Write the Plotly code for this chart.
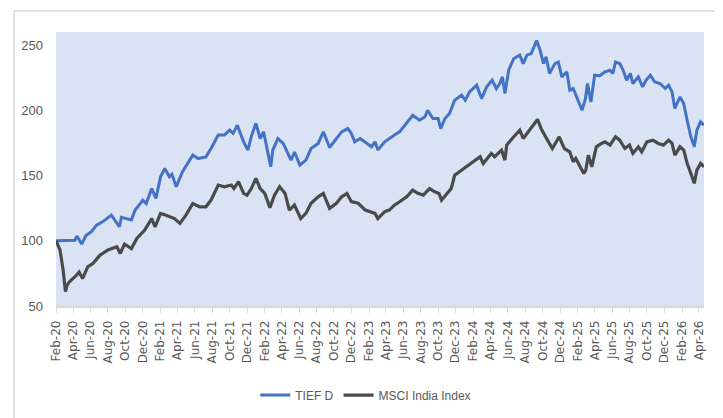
import plotly.graph_objects as go

tief_dates = [
    "2020-02-01", "2020-04-07", "2020-04-14", "2020-05-01", "2020-05-16", "2020-06-04", "2020-06-22",
    "2020-07-13", "2020-08-13", "2020-08-25", "2020-09-10", "2020-09-17", "2020-10-10", "2020-10-22",
    "2020-11-04", "2020-12-01", "2020-12-13", "2021-01-01", "2021-01-16", "2021-02-01", "2021-02-16",
    "2021-03-04", "2021-03-13", "2021-03-28", "2021-04-19", "2021-05-25", "2021-06-13", "2021-07-10",
    "2021-07-28", "2021-08-22", "2021-09-13", "2021-10-01", "2021-10-13", "2021-10-28", "2021-11-19",
    "2021-12-04", "2021-12-16", "2022-01-01", "2022-01-16", "2022-01-28", "2022-02-10", "2022-02-22",
    "2022-03-01", "2022-03-19", "2022-04-07", "2022-04-22", "2022-05-04", "2022-05-16", "2022-06-04",
    "2022-06-25", "2022-07-13", "2022-08-07", "2022-08-25", "2022-09-16", "2022-10-04", "2022-10-28",
    "2022-11-19", "2022-12-01", "2022-12-13", "2023-01-01", "2023-01-25", "2023-02-10", "2023-02-22",
    "2023-03-04", "2023-03-28", "2023-04-13", "2023-05-01", "2023-05-19", "2023-06-07", "2023-06-22",
    "2023-07-04", "2023-07-28", "2023-08-16", "2023-08-25", "2023-09-13", "2023-10-01", "2023-10-10",
    "2023-10-25", "2023-11-10", "2023-11-28", "2023-12-22", "2024-01-04", "2024-01-19", "2024-02-13",
    "2024-03-01", "2024-03-19", "2024-03-28", "2024-04-07", "2024-04-22", "2024-05-04", "2024-05-13",
    "2024-05-22", "2024-06-04", "2024-06-22", "2024-07-13", "2024-07-25", "2024-08-07", "2024-08-22",
    "2024-09-10", "2024-09-22", "2024-10-04", "2024-10-13", "2024-10-25", "2024-11-13", "2024-11-25",
    "2024-12-07", "2024-12-25", "2025-01-04", "2025-01-16", "2025-02-01", "2025-02-16", "2025-02-28",
    "2025-03-07", "2025-03-19", "2025-04-01", "2025-04-19", "2025-05-07", "2025-05-25", "2025-06-04",
    "2025-06-13", "2025-06-28", "2025-07-10", "2025-07-22", "2025-08-04", "2025-08-13", "2025-09-01",
    "2025-09-16", "2025-09-28", "2025-10-13", "2025-10-28", "2025-11-16", "2025-12-04", "2025-12-16",
    "2025-12-28", "2026-01-07", "2026-01-25", "2026-02-07", "2026-02-19", "2026-03-04", "2026-03-16",
    "2026-03-25", "2026-04-07", "2026-04-19",
]
tief_values = [
    100, 100.3, 103.6, 97.5, 104, 107, 112,
    114.5, 119.7, 116, 110.7, 118, 117, 116,
    123.5, 131, 128.5, 140, 132.5, 149, 155.4,
    149, 151, 141.4, 152.9, 165.6, 163, 164.3,
    170.7, 181, 181, 184.8, 182.3, 188.6, 175.8,
    169.5, 180, 190, 178.4, 183.5, 169.5, 156.7,
    169.5, 178.4, 174.5, 166.9, 161.8, 168, 158,
    161.8, 170.7, 174.6, 183.5, 171.5, 177, 183.5,
    186, 182.3, 175.8, 178.4, 174.6, 172, 175.8,
    169.5, 175.8, 178.4, 181, 183.5, 188.6, 192.4,
    196.2, 192.4, 195, 200, 193.7, 193.7, 186,
    193.7, 197.5, 207.7, 211.6, 207.7, 214, 219.2,
    209, 218, 220.5, 223, 216.7, 220.5, 225.6,
    212.9, 230.7, 239.7, 242.2, 235.8, 242.2, 243.5,
    253.5, 246, 235.8, 241, 228.2, 235.8, 237,
    225.6, 229.4, 215.4, 216.7, 207.7, 200, 209,
    220.5, 206.4, 226.9, 226.5, 229.4, 230.7, 228.2,
    237, 235.8, 230.7, 223, 228.2, 220.5, 225.6,
    218, 223, 226.9, 221.8, 220.5, 216.7, 219.2,
    214.1, 201.4, 210.3, 205.1, 192.4, 179.7, 172,
    184.8, 191.1, 188.6,
]

msci_dates = [
    "2020-02-01", "2020-02-15", "2020-02-26", "2020-03-05", "2020-03-11", "2020-03-19", "2020-04-13",
    "2020-04-22", "2020-05-04", "2020-05-22", "2020-06-10", "2020-07-04", "2020-08-01", "2020-09-01",
    "2020-09-13", "2020-09-28", "2020-10-22", "2020-11-10", "2020-12-07", "2021-01-01", "2021-01-13",
    "2021-02-01", "2021-02-16", "2021-03-04", "2021-03-22", "2021-04-10", "2021-05-01", "2021-05-25",
    "2021-06-19", "2021-07-10", "2021-07-28", "2021-08-22", "2021-09-13", "2021-10-07", "2021-10-16",
    "2021-11-01", "2021-11-19", "2021-12-01", "2021-12-16", "2022-01-01", "2022-01-16", "2022-02-01",
    "2022-02-19", "2022-03-07", "2022-03-25", "2022-04-13", "2022-04-28", "2022-05-16", "2022-06-07",
    "2022-06-25", "2022-07-13", "2022-08-07", "2022-08-25", "2022-09-16", "2022-10-10", "2022-10-28",
    "2022-11-16", "2022-12-01", "2022-12-25", "2023-01-19", "2023-02-04", "2023-02-22", "2023-03-04",
    "2023-03-28", "2023-04-13", "2023-05-01", "2023-05-19", "2023-06-13", "2023-07-04", "2023-07-22",
    "2023-08-10", "2023-09-01", "2023-09-19", "2023-10-04", "2023-10-13", "2023-11-01", "2023-11-16",
    "2023-11-28", "2023-12-22", "2024-01-10", "2024-01-25", "2024-02-13", "2024-02-25", "2024-03-07",
    "2024-03-19", "2024-04-04", "2024-04-16", "2024-05-10", "2024-05-22", "2024-05-28", "2024-06-22",
    "2024-07-13", "2024-07-25", "2024-08-07", "2024-08-22", "2024-09-13", "2024-09-28", "2024-10-16",
    "2024-11-04", "2024-11-28", "2024-12-16", "2025-01-04", "2025-01-16", "2025-01-25", "2025-02-10",
    "2025-02-22", "2025-03-01", "2025-03-10", "2025-03-22", "2025-04-07", "2025-04-25", "2025-05-07",
    "2025-05-25", "2025-06-13", "2025-06-28", "2025-07-16", "2025-08-01", "2025-08-13", "2025-09-01",
    "2025-09-13", "2025-10-01", "2025-10-22", "2025-11-10", "2025-11-28", "2025-12-16", "2025-12-28",
    "2026-01-07", "2026-01-25", "2026-02-07", "2026-02-19", "2026-03-04", "2026-03-16", "2026-03-25",
    "2026-04-07", "2026-04-19",
]
msci_values = [
    100, 93, 77.5, 61, 66, 68.6, 73.7,
    76, 71, 80, 82.7, 89, 93, 95.4,
    90.3, 97.5, 94, 101.8, 108, 117, 110.7,
    121, 120, 118.4, 117, 113.3, 119.7, 128.6,
    126, 126, 131.2, 142.7, 141.4, 142.7, 140,
    145.3, 136.3, 135, 140, 147.8, 140, 136.3,
    125.4, 135, 141.4, 136.3, 123.5, 127.4, 117,
    121, 128.7, 133.7, 136.3, 124.8, 128.7, 133.7,
    136.3, 130, 128.7, 123.5, 122.3, 121, 117,
    122.3, 123.5, 127.3, 129.9, 133.7, 138.8, 136.3,
    135, 140, 137.5, 136.3, 131.2, 136.3, 140,
    150.3, 154.1, 156.7, 159.3, 161.8, 164.4, 159.3,
    163, 166.9, 164.4, 169.5, 161.8, 173.3, 179.7,
    184.8, 178.4, 182.3, 186, 193, 184.8, 178.4,
    170.7, 179.7, 170.7, 168.2, 160.5, 163.1, 156.7,
    151.6, 154.1, 165.6, 156.7, 172, 174.6, 175.8,
    173.3, 179.7, 177.1, 170.7, 173.3, 166.9, 172,
    168.2, 175.8, 177.1, 174.6, 173.3, 177.1, 174.6,
    165.6, 172, 169.5, 159.3, 151.6, 144, 154.1,
    159.3, 156.7,
]

y_ticks = [50, 100, 150, 200, 250]

fig = go.Figure()
fig.add_trace(go.Scatter(x=tief_dates, y=tief_values, mode="lines", name="TIEF D",
                         line=dict(color="#4472C4", width=3)))
fig.add_trace(go.Scatter(x=msci_dates, y=msci_values, mode="lines", name="MSCI India Index",
                         line=dict(color="#4a4a4a", width=3.2)))

fig.update_layout(
    width=715, height=410,
    margin=dict(l=48, r=19, t=24, b=112, autoexpand=False),
    paper_bgcolor="white",
    plot_bgcolor="#dae3f3",
    font=dict(family="Liberation Sans, Arial, sans-serif", color="#595959", size=13),
    showlegend=True,
    legend=dict(orientation="h", x=0.478, xanchor="center", y=-0.325, yanchor="middle",
                font=dict(family="Liberation Sans, Arial, sans-serif", size=12, color="#595959"),
                itemwidth=30, tracegroupgap=0, bgcolor="rgba(0,0,0,0)"),
    shapes=[dict(type="rect", xref="paper", yref="paper",
                 x0=-0.0648, x1=1.0231, y0=-0.45, y1=1.0766,
                 line=dict(color="#d9d9d9", width=1.5), fillcolor="rgba(0,0,0,0)",
                 layer="below")],
)
fig.update_xaxes(
    type="date", range=["2020-02-01", "2026-04-19"], automargin=False,
    tick0="2020-02-01", dtick="M2", tickformat="%b-%y", tickangle=-90,
    ticks="outside", ticklen=5, tickcolor="#d9d9d9", ticklabelstandoff=3,
    showline=True, linecolor="#d9d9d9", linewidth=1.5,
    showgrid=False, zeroline=False,
    tickfont=dict(family="DejaVu Sans, Verdana, sans-serif", size=12, color="#595959"),
)
fig.update_yaxes(
    range=[50, 260], tickvals=y_ticks, showgrid=False, zeroline=False, automargin=False,
    showline=False, ticks="", ticklabelstandoff=12,
    tickfont=dict(family="Liberation Sans, Arial, sans-serif", size=13, color="#595959"),
)

fig.write_html("out.html")
